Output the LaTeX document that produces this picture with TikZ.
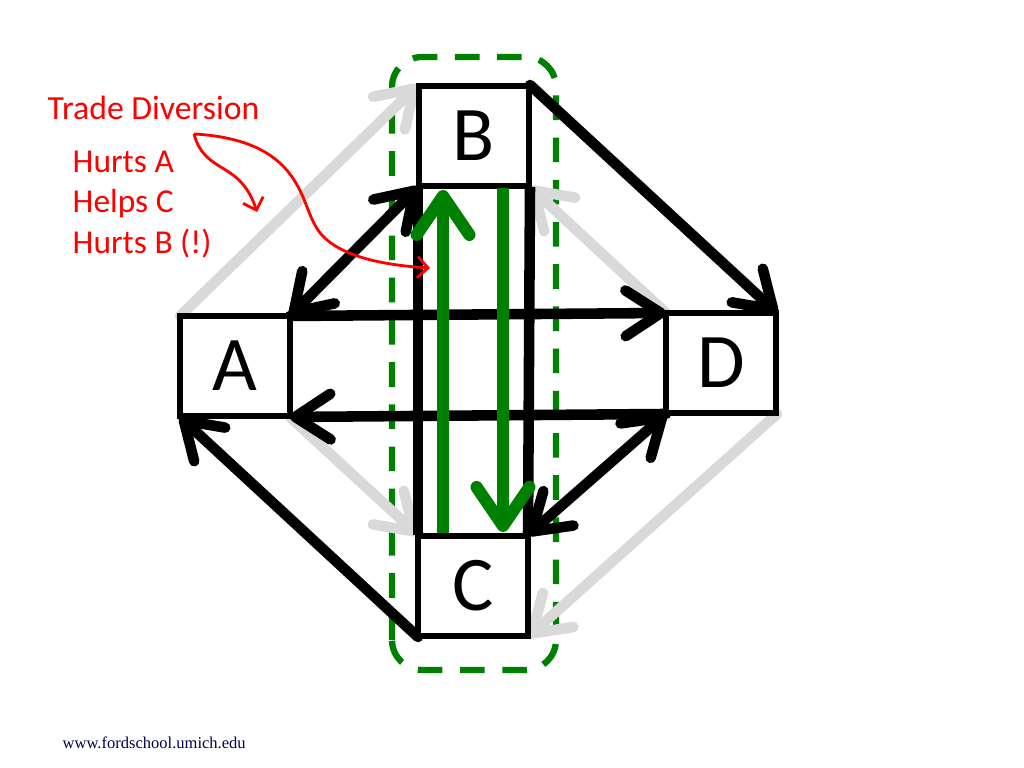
\documentclass[tikz,border=0pt]{standalone}
\usepackage{fontspec}
\setmainfont{Carlito}
\usetikzlibrary{arrows.meta}
\begin{document}
\begin{tikzpicture}[x=0.01cm,y=0.01cm,
  tip/.tip={Straight Barb[length=10pt,width=13pt,line width=3pt,round]},
  box/.style={draw=black,line width=1.8pt,fill=white,minimum width=1.1cm,minimum height=1.0cm,inner sep=0pt,font=\fontsize{22}{24}\selectfont},
  blk/.style={draw=black,line width=3pt,line cap=round,-tip},
  gry/.style={draw=black!15,line width=3pt,line cap=round,-tip},
  grn/.style={draw=green!50!black,line width=3.5pt,-{Straight Barb[length=11pt,width=15pt,line width=3.5pt,round]}},
  rd/.style={draw=red,line width=0.8pt,-{Straight Barb[length=3pt,width=6pt]}},
  lab/.style={text=red,font=\fontsize{9.5}{11}\selectfont,anchor=west,inner sep=0pt}]
\useasboundingbox (0,0) rectangle (1024,768);
\draw[green!50!black,line width=1.8pt,dash pattern=on 7pt off 5pt,rounded corners=0.3cm] (392,98) rectangle (556,711);
\coordinate (Btl) at (418,683); \coordinate (Btr) at (530,683);
\coordinate (Bbl) at (418,581); \coordinate (Bbr) at (530,581);
\coordinate (Atl) at (180,452); \coordinate (Atr) at (290,452);
\coordinate (Abl) at (180,351); \coordinate (Abr) at (290,351);
\coordinate (Dtl) at (666,455); \coordinate (Dtr) at (777,455);
\coordinate (Dbl) at (666,354); \coordinate (Dbr) at (777,354);
\coordinate (Ctl) at (418,233); \coordinate (Ctr) at (528,233);
\coordinate (Cbl) at (418,131); \coordinate (Cbr) at (528,131);
% gray
\draw[gry] (Atl) -- (Btl);
\draw[gry] (Dtl) -- (Bbr);
\draw[gry] (Abr) -- (Ctl);
\draw[gry] (Dbr) -- (Cbr);
% black
\draw[black,line width=3pt] (Bbl) -- (Ctl);
\draw[black,line width=3pt] (Bbr) -- (Ctr);
\draw[blk] (Btr) -- (Dtr);
\draw[blk] (Atr) -- (Dtl);
\draw[blk] (Dbl) -- (Abr);
\draw[blk,tip-tip] (Bbl) -- (Atr);
\draw[blk,tip-tip] (Ctr) -- (Dbl);
\draw[blk] (Cbl) -- (Abl);
% boxes
\node[box] (B) at (474,632) {B};
\node[box] (A) at (235,402) {A};
\node[box] (D) at (721,405) {D};
\node[box] (C) at (473,182) {C};
% green
\coordinate (g1s) at (443,235); \coordinate (g1e) at (443,578);
\coordinate (g2s) at (503,580); \coordinate (g2e) at (503,236);
\draw[grn] (g1s) -- (g1e);
\draw[grn] (g2s) -- (g2e);
% labels
\node[lab,font=\fontsize{9.6}{11}\selectfont] (td) at (47,660) {Trade Diversion};
\node[lab] (h1) at (72,606) {Hurts A};
\node[lab] (h2) at (72,564) {Helps C};
\node[lab] (h3) at (72,524) {Hurts B (!)};
\coordinate (r0) at (194,634);
\coordinate (r1) at (257,556);
\coordinate (r2) at (430,500);
\draw[rd] (r0) .. controls (205,593) and (240,608) .. (r1);
\draw[rd] (r0) .. controls (300,628) and (300,568) .. (315,543) .. controls (330,513) and (380,503) .. (r2);
\node[anchor=west,inner sep=0pt,font=\fontsize{4.7}{6}\selectfont,text=blue!30!black] (url) at (62,25) {\fontspec{Liberation Serif}www.fordschool.umich.edu};
\end{tikzpicture}
\end{document}
